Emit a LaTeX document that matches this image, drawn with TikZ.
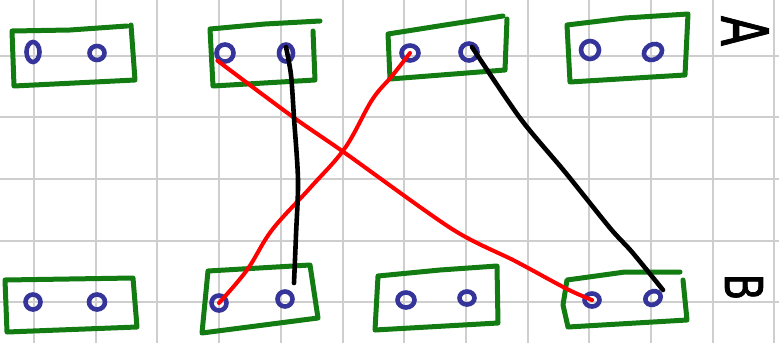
\documentclass[tikz,border=0pt]{standalone}
\usepackage{fontspec}
\setmainfont{DejaVu Sans}
\newfontface\letterface{DejaVu Sans}[FakeBold=1.6]
\usetikzlibrary{shapes.geometric}
\definecolor{gridgray}{RGB}{206,206,206}
\definecolor{boardgreen}{RGB}{18,124,18}
\definecolor{pinblue}{RGB}{52,52,154}
\begin{document}
\begin{tikzpicture}[x=1pt,y=-1pt,
  gridline/.style={draw=gridgray,line width=2pt},
  board/.style={draw=boardgreen,line width=5pt,line cap=round,line join=round},
  pin/.style={ellipse,draw=pinblue,line width=4.6pt,inner sep=0pt,minimum width=15pt,minimum height=15pt},
  redwire/.style={draw=red,line width=4pt,line cap=round,line join=round},
  blackwire/.style={draw=black,line width=4.6pt,line cap=round,line join=round},
  letter/.style={font=\letterface\fontsize{52}{52}\selectfont,inner sep=0pt}]
% canvas
\useasboundingbox[fill=white] (0,0) rectangle (779,343);
% squared paper
\foreach \gx in {0,...,12} \draw[gridline] ({34+61.7*\gx},0) -- ({34+61.7*\gx},343);
\foreach \gy in {0,...,4} \draw[gridline] (0,{55.5+61.7*\gy}) -- (779,{55.5+61.7*\gy});

% boards of row A
\draw[board] (131,25) -- (135,80) -- (14,86) -- (12,31) -- (70,30) -- (127,26);
\draw[board] (313,31) -- (315,80) -- (213,86) -- (210,29) -- (265,24) -- (320,21);
\draw[board] (507,19) -- (505,70) -- (390,79) -- (388,34) -- (445,25) -- (503,16);
\draw[board] (567,25) -- (625,18) -- (688,14) -- (685,75) -- (570,82) -- cycle;
% boards of row B
\draw[board] (5,280) -- (133,278) -- (137,327) -- (7,332) -- cycle;
\draw[board] (208,271) -- (310,265) -- (318,318) -- (202,333) -- cycle;
\draw[board] (378,276) -- (440,270) -- (497,266) -- (498,323) -- (375,330) -- cycle;
\draw[board] (683,280) -- (687,320) -- (568,327) -- (563,305) -- (567,280) -- (625,272) -- (680,272);

% pins of row A
\node[pin,minimum width=13pt,minimum height=20pt] (a1l) at (33,52) {};
\node[pin,minimum width=15pt,minimum height=14pt] (a1r) at (97,53) {};
\node[pin,minimum width=17pt,minimum height=17pt] (a2l) at (225,53) {};
\node[pin,minimum width=14pt,minimum height=17pt] (a2r) at (286,53) {};
\node[pin,minimum width=17pt,minimum height=15pt] (a3l) at (410,53) {};
\node[pin,minimum width=17pt,minimum height=17pt] (a3r) at (469,52) {};
\node[pin,minimum width=18pt,minimum height=18pt] (a4l) at (590,50) {};
\node[pin,minimum width=19pt,minimum height=15pt,rotate=30] (a4r) at (653,52) {};
% pins of row B
\node[pin] (b1l) at (33,302) {};
\node[pin,minimum width=16pt] (b1r) at (97,302) {};
\node[pin] (b2l) at (219,303) {};
\node[pin] (b2r) at (285,299) {};
\node[pin,minimum width=17pt] (b3l) at (406,300) {};
\node[pin,minimum height=13pt] (b3r) at (467,298) {};
\node[pin,minimum height=13pt] (b4l) at (592,300) {};
\node[pin,minimum width=16pt,minimum height=13pt,rotate=30] (b4r) at (653,298) {};

% free wire ends
\coordinate (k1end) at (294,283);
\coordinate (k2end) at (663,290);

% wires
\draw[redwire] plot[smooth,tension=0.5] coordinates
  {(a2l.south west) (293,117) (345,153) (452,229) (515,261) (567,289) (b4l.center)};
\draw[redwire] plot[smooth,tension=0.6] coordinates
  {(b2l.center) (247,270) (272,230) (310,188) (345,148) (372,100) (392,76) (a3l.center)};
\draw[blackwire] plot[smooth,tension=0.5] coordinates
  {([yshift=6pt]a2r.center) (291,75) (294,118) (298,180) (296,235) (k1end)};
\draw[blackwire] plot[smooth,tension=0.5] coordinates
  {([xshift=3pt,yshift=5pt]a3r.center) (520,118) (565,172) (610,228) (632,252) (k2end)};

% row letters, turned a quarter clockwise
\node[letter] (la) at (745,31) {\rotatebox{-90}{\scalebox{0.85}[1.25]{A}}};
\node[letter] (lb) at (744,287) {\rotatebox{-90}{\scalebox{0.75}[1.0]{B}}};
\end{tikzpicture}
\end{document}
